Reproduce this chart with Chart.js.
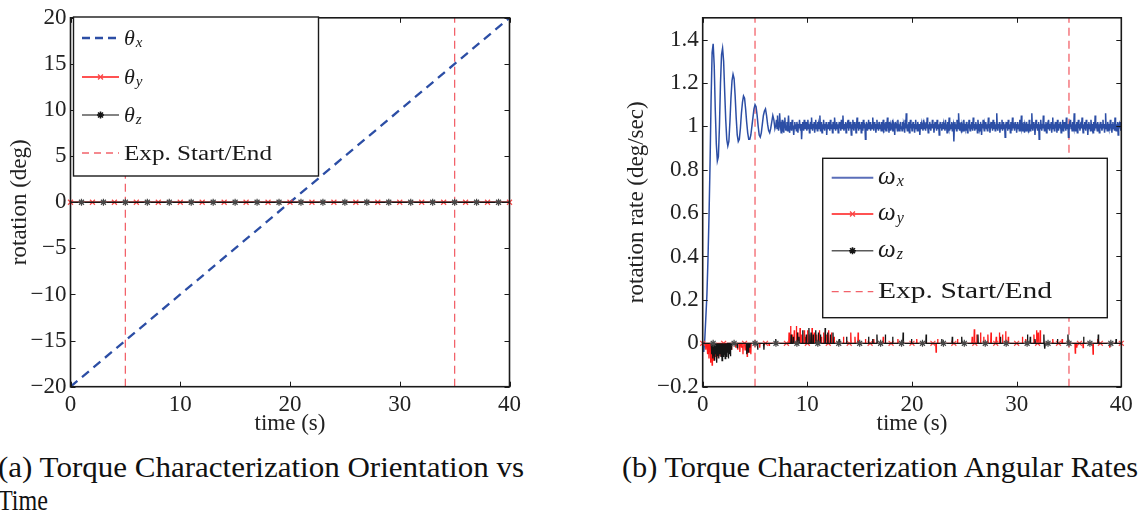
<!DOCTYPE html>
<html>
<head>
<meta charset="utf-8">
<script src="https://cdn.jsdelivr.net/npm/chart.js@4.4.1/dist/chart.umd.min.js"></script>
<style>
  html, body { margin: 0; padding: 0; background: #fff; }
  body { width: 1143px; height: 515px; position: relative; overflow: hidden; font-family: "Liberation Serif", serif; }
  .panel { position: absolute; top: 0; }
  #orientPanel { left: 0; }
  #ratePanel { left: 590px; }
  .caption { position: absolute; white-space: nowrap; font-size: 30px; line-height: 34px; color: #111; transform-origin: 0 0; }
</style>
</head>
<body>
<div class="panel" id="orientPanel"><canvas id="orientChart" width="540" height="440"></canvas></div>
<div class="panel" id="ratePanel"><canvas id="rateChart" width="553" height="440"></canvas></div>
<div class="caption" style="left:-2px; top:450px" data-w="526">(a) Torque Characterization Orientation vs</div>
<div class="caption" style="left:-2px; top:483px" data-w="50">Time</div>
<div class="caption" style="left:622px; top:450px" data-w="516">(b) Torque Characterization Angular Rates</div>

<script>
// ---- data ----

// (a) orientation vs time
const timeTicks = [0, 10, 20, 30, 40];
const orientTicks = [-20, -15, -10, -5, 0, 5, 10, 15, 20];
const orientRange = [-20, 20];
const thetaXTime = [0, 5, 10, 15, 20, 25, 30, 35, 40];
const thetaX = [-20, -15, -10, -5, 0, 5, 10, 15, 20];
const orientTime = [0, 1, 2, 3, 4, 5, 6, 7, 8, 9, 10, 11, 12, 13, 14, 15, 16, 17, 18, 19, 20,
    21, 22, 23, 24, 25, 26, 27, 28, 29, 30, 31, 32, 33, 34, 35, 36, 37, 38, 39, 40];
const thetaY = [0, 0, 0, 0, 0, 0, 0, 0, 0, 0, 0, 0, 0, 0, 0, 0, 0, 0, 0, 0, 0,
    0, 0, 0, 0, 0, 0, 0, 0, 0, 0, 0, 0, 0, 0, 0, 0, 0, 0, 0, 0];
const thetaZ = [0, 0, 0, 0, 0, 0, 0, 0, 0, 0, 0, 0, 0, 0, 0, 0, 0, 0, 0, 0, 0,
    0, 0, 0, 0, 0, 0, 0, 0, 0, 0, 0, 0, 0, 0, 0, 0, 0, 0, 0, 0];
const expMarks = [5, 35];

// (b) angular rates
const rateTicks = [-0.2, 0, 0.2, 0.4, 0.6, 0.8, 1, 1.2, 1.4];
const rateRange = [-0.2, 1.5];

// spin-up transient, one sample every 0.1 s from t = 0
const startStep = 0.1;
const omegaXStart = [
    0.00, -0.04, 0.02, 0.12, 0.22, 0.38, 0.58, 0.82, 1.12, 1.34,
    1.38, 1.28, 1.08, 0.92, 0.84, 0.86, 1.00, 1.20, 1.33, 1.36,
    1.30, 1.16, 1.03, 0.94, 0.91, 0.93, 1.02, 1.13, 1.21, 1.24,
    1.22, 1.14, 1.04, 0.96, 0.93, 0.94, 0.99, 1.06, 1.11, 1.14,
    1.13, 1.08, 1.02, 0.97, 0.94, 0.94, 0.96, 1.00, 1.04, 1.08,
    1.10, 1.09, 1.05, 1.00, 0.96, 0.95, 0.97, 1.01, 1.05, 1.07,
    1.08, 1.05, 1.01, 0.98, 0.97, 0.99, 1.02, 1.05, 1.03, 0.99
];
// steady noisy part, one sample every 0.05 s from t = 7 (one row per second)
const steadyFrom = 7;
const steadyStep = 0.05;
const omegaXSteady = [
    1.01, 1.03, 0.99, 1.05, 1.02, 0.98, 1.00, 1.06, 1.02, 0.99, 0.97, 1.01, 1.03, 0.99, 1.00, 0.97, 1.02, 1.04, 1.00, 0.98,
    1.00, 1.02, 0.98, 1.01, 1.05, 1.00, 0.97, 0.99, 1.02, 1.00, 0.98, 1.03, 1.01, 0.99, 0.96, 1.00, 1.02, 0.99, 1.01, 0.98,
    1.02, 1.00, 0.97, 1.01, 0.99, 1.03, 1.00, 0.98, 1.01, 0.94, 0.99, 1.02, 1.00, 0.98, 1.03, 1.01, 0.99, 1.00, 1.02, 0.98,
    1.00, 1.03, 0.99, 1.01, 0.97, 1.00, 1.02, 0.99, 1.04, 1.00, 0.98, 1.01, 0.99, 1.02, 0.97, 1.00, 1.03, 0.99, 1.01, 0.98,
    1.02, 0.99, 1.01, 1.00, 1.05, 0.98, 1.00, 1.02, 0.97, 1.01, 0.99, 1.03, 1.00, 0.98, 1.01, 0.99, 1.02, 0.96, 1.00, 1.01,
    0.99, 1.02, 1.00, 0.98, 1.03, 1.00, 0.99, 1.01, 0.97, 1.02, 1.00, 0.99, 1.04, 1.01, 0.98, 1.00, 1.02, 0.99, 1.01, 0.97,
    1.00, 1.02, 0.99, 1.01, 0.98, 1.03, 1.00, 0.99, 1.05, 1.00, 0.98, 1.01, 0.99, 1.02, 0.97, 1.00, 1.01, 0.99, 1.03, 0.98,
    1.01, 0.99, 1.02, 1.00, 0.96, 1.01, 0.99, 1.03, 1.00, 0.98, 1.02, 0.99, 1.01, 0.97, 1.00, 1.04, 0.99, 1.01, 0.98, 1.02,
    1.00, 0.99, 1.01, 0.97, 1.02, 1.00, 0.98, 1.03, 0.99, 1.01, 1.00, 0.94, 0.99, 1.02, 1.00, 0.98, 1.01, 1.03, 0.99, 1.00,
    1.02, 0.98, 1.00, 1.01, 0.99, 1.04, 1.00, 0.98, 1.02, 0.99, 1.01, 0.97, 1.00, 1.03, 0.99, 1.01, 0.98, 1.02, 1.00, 0.99,
    1.01, 0.98, 1.02, 1.00, 0.99, 1.03, 0.97, 1.01, 1.00, 0.99, 1.02, 0.98, 1.00, 1.04, 0.99, 1.01, 0.97, 1.02, 1.00, 0.98,
    1.01, 1.00, 0.99, 1.03, 0.98, 1.01, 1.00, 0.96, 1.02, 0.99, 1.01, 1.00, 0.98, 1.03, 0.99, 1.01, 0.98, 1.00, 1.02, 0.99,
    1.00, 0.98, 1.02, 0.99, 1.01, 1.00, 0.97, 1.03, 0.99, 1.06, 1.00, 0.98, 1.01, 0.99, 1.02, 0.97, 1.00, 1.03, 0.99, 1.01,
    0.98, 1.00, 1.02, 0.99, 1.01, 0.97, 1.00, 1.03, 0.99, 1.01, 0.98, 1.02, 1.00, 0.99, 1.01, 0.96, 1.00, 1.02, 0.99, 1.01,
    1.00, 0.98, 1.03, 0.99, 1.01, 1.00, 0.98, 1.02, 0.99, 1.04, 1.00, 0.97, 1.01, 0.99, 1.02, 1.00, 0.98, 1.01, 0.99, 1.03,
    0.99, 1.01, 0.97, 1.00, 1.02, 0.99, 1.01, 0.98, 1.03, 1.00, 0.99, 1.01, 0.96, 1.00, 1.02, 0.99, 1.01, 0.98, 1.00, 1.02,
    0.99, 1.01, 1.00, 0.98, 1.03, 0.99, 1.01, 0.97, 1.02, 1.00, 0.99, 1.04, 0.98, 1.00, 1.01, 0.99, 1.02, 0.98, 1.00, 1.01,
    0.93, 1.00, 1.02, 0.99, 1.01, 0.98, 1.03, 1.00, 0.99, 1.06, 1.01, 0.98, 1.00, 0.99, 1.02, 0.97, 1.01, 1.00, 0.98, 1.03,
    1.00, 0.99, 1.01, 0.98, 1.02, 1.00, 0.97, 1.01, 0.99, 1.03, 1.00, 0.98, 1.01, 0.99, 1.02, 1.00, 0.98, 1.04, 0.99, 1.01,
    0.98, 1.00, 1.02, 0.99, 1.01, 0.97, 1.03, 1.00, 0.99, 1.01, 0.98, 1.02, 1.00, 0.96, 1.01, 0.99, 1.03, 1.00, 0.98, 1.01,
    1.00, 1.02, 0.99, 1.01, 0.98, 1.00, 1.04, 0.99, 1.01, 0.97, 1.00, 1.02, 0.99, 1.01, 0.98, 1.03, 1.00, 0.99, 1.02, 0.98,
    1.01, 0.99, 1.06, 1.00, 0.98, 1.01, 0.99, 1.02, 0.97, 1.00, 1.01, 0.99, 1.03, 0.98, 1.00, 1.02, 0.99, 1.01, 0.95, 1.00,
    1.02, 0.99, 1.01, 0.98, 1.03, 1.00, 0.99, 1.01, 0.97, 1.02, 1.00, 0.98, 1.04, 0.99, 1.01, 1.00, 0.98, 1.02, 0.99, 1.01,
    0.97, 1.00, 1.02, 0.99, 1.01, 0.98, 1.03, 1.00, 0.99, 1.05, 1.01, 0.98, 1.00, 0.99, 1.02, 0.97, 1.01, 1.00, 0.98, 1.02,
    1.00, 0.99, 1.01, 0.97, 1.03, 1.00, 0.98, 1.01, 0.99, 1.06, 1.00, 0.98, 1.02, 0.99, 1.01, 0.96, 1.00, 1.03, 0.99, 1.01,
    0.98, 1.00, 1.02, 0.94, 1.01, 0.99, 1.03, 1.00, 0.98, 1.01, 0.99, 1.05, 1.00, 0.98, 1.01, 0.99, 1.02, 0.97, 1.00, 1.01,
    0.99, 1.03, 1.00, 0.98, 1.01, 0.99, 1.02, 0.97, 1.00, 1.04, 0.99, 1.01, 0.98, 1.00, 1.02, 0.99, 1.01, 0.97, 1.03, 1.00,
    0.98, 1.01, 0.99, 1.02, 1.00, 0.97, 1.01, 0.99, 1.03, 0.98, 1.00, 1.02, 0.99, 1.01, 0.98, 1.04, 1.00, 0.99, 1.01, 0.95,
    0.97, 1.01, 1.00, 1.03, 0.99, 1.01, 0.98, 1.02, 1.00, 0.99, 1.06, 1.00, 0.98, 1.01, 0.99, 1.02, 0.97, 1.00, 1.03, 0.99,
    1.01, 0.98, 1.00, 1.02, 0.99, 1.04, 1.00, 0.97, 1.01, 0.99, 1.02, 1.00, 0.98, 1.03, 0.99, 1.01, 0.96, 1.00, 1.02, 0.99,
    1.01, 0.98, 1.03, 1.00, 0.99, 1.01, 0.97, 1.02, 1.00, 0.98, 1.05, 0.99, 1.01, 1.00, 0.98, 1.02, 0.99, 1.01, 0.97, 1.00,
    1.02, 0.99, 1.01, 0.98, 1.00, 1.03, 0.99, 1.01, 0.97, 1.00, 1.06, 0.99, 1.01, 0.98, 1.02, 1.00, 0.99, 1.01, 0.98, 1.03,
    0.99, 1.01, 0.97, 1.00, 1.02, 0.99, 1.01, 0.98, 1.04, 1.00, 0.98, 1.01, 0.99, 1.02, 0.96, 1.00, 1.01, 0.99, 1.02, 0.98,
    1.00
];
// spikes as [time, value]; the rest of the trace sits on zero
const omegaYSpikes = [
    [0.3, -0.03], [0.45, -0.05], [0.6, -0.07], [0.75, -0.09], [0.9, -0.1], [1.05, -0.08],
    [1.2, -0.06], [1.35, -0.07], [1.5, -0.05], [1.65, -0.06], [1.8, -0.04], [1.95, -0.05],
    [2.1, -0.04], [2.25, -0.03], [2.4, -0.04], [2.55, -0.02], [2.75, -0.03], [3.15, -0.02],
    [3.35, -0.03], [3.55, -0.04], [3.7, -0.02], [3.85, -0.05], [4.05, -0.03], [4.25, -0.06],
    [4.45, -0.04], [4.6, -0.05], [5.45, -0.02], [6.35, -0.01],
    [8.25, 0.05], [8.4, 0.08], [8.55, 0.04], [8.75, 0.06], [8.95, 0.08], [9.1, 0.05],
    [9.3, 0.07], [9.45, 0.04], [9.7, 0.06], [9.85, 0.03], [10.05, 0.06], [10.25, 0.04],
    [10.45, 0.07], [10.65, 0.05], [10.9, 0.04], [11.15, 0.06], [11.35, 0.03], [11.55, 0.05],
    [11.85, 0.04], [12.05, 0.06], [12.3, 0.05], [12.55, 0.03],
    [13.45, 0.03], [14.15, 0.05], [14.55, 0.03], [14.85, 0.05], [15.55, 0.02], [16.35, 0.02],
    [17.25, 0.03], [18.65, 0.02], [20.45, 0.02], [22.3, -0.04], [22.45, 0.02], [24.35, 0.02],
    [25.75, 0.03], [25.95, 0.065], [26.2, 0.04], [26.55, 0.05], [26.85, 0.03], [27.25, 0.04],
    [27.55, 0.05], [28.05, 0.03], [28.35, 0.05], [28.65, 0.04], [28.95, 0.055], [29.2, 0.03],
    [30.55, 0.03], [30.85, 0.02], [31.65, 0.04], [31.9, 0.06], [32.05, 0.05], [32.25, 0.06],
    [33.45, 0.02], [34.35, 0.02], [35.6, -0.045], [35.75, -0.02], [36.35, -0.02],
    [37.3, -0.05], [37.75, 0.02], [38.9, -0.02]
];
const omegaZSpikes = [
    [0.85, -0.05], [0.95, -0.07], [1.05, -0.06], [1.15, -0.08], [1.25, -0.05], [1.35, -0.09],
    [1.45, -0.06], [1.55, -0.07], [1.65, -0.05], [1.75, -0.06], [1.85, -0.08], [1.95, -0.06],
    [2.05, -0.05], [2.15, -0.07], [2.25, -0.06], [2.35, -0.04], [2.45, -0.07], [2.55, -0.05],
    [2.65, -0.06], [2.75, -0.03],
    [3.3, -0.02], [4.2, -0.05], [4.35, -0.04], [4.5, -0.02], [5.25, -0.03], [5.85, -0.03],
    [6.95, 0.02], [8.45, 0.04], [8.65, 0.03], [9.05, 0.05], [9.2, 0.03], [9.55, 0.06],
    [9.9, 0.04], [10.15, 0.07], [10.35, 0.05], [10.55, 0.04], [10.8, 0.06], [11.05, 0.05],
    [11.25, 0.04], [11.7, 0.07], [11.95, 0.05], [12.2, 0.04], [12.45, 0.05], [13.05, 0.02],
    [13.75, 0.03], [15.85, 0.03], [16.25, 0.02], [16.65, 0.04], [17.45, 0.04], [18.15, 0.03],
    [19.15, 0.05], [19.95, 0.02], [21.35, 0.04], [22.85, 0.02], [23.85, 0.03], [24.75, 0.03],
    [26.3, 0.04], [28.45, 0.03], [31.05, 0.04], [31.3, 0.03], [31.75, 0.02], [32.6, 0.04],
    [32.7, -0.025], [33.9, 0.02], [34.9, 0.04], [36.4, 0.03], [37.8, 0.04], [39.5, 0.02]
];
const omegaYMarkTimes = [0, 2, 4, 6, 8, 10, 12, 14, 16, 18, 20, 22, 24, 26, 28, 30, 32, 34, 36, 38, 40];
const omegaZMarkTimes = [1, 3, 5, 7, 9, 11, 13, 15, 17, 19, 21, 23, 25, 27, 29, 31, 33, 35, 37, 39];

// ---- styling ----
const BLUE = 'rgb(44, 78, 165)';
const RED = 'rgb(255, 25, 25)';
const RED_MARK = 'rgb(250, 70, 70)';
const BLACK = 'rgb(20, 20, 20)';
const GREY_MARK = 'rgb(70, 70, 70)';
const EXP_RED = 'rgba(240, 70, 80, 0.85)';
const FONT = "'Liberation Serif', serif";

Chart.defaults.font.family = FONT;
Chart.defaults.color = '#222';
Chart.defaults.animation = false;

const fmtTick = v => String(v).replace('-', '\u2212');

function pairs(xs, ys) {
    return xs.map((x, i) => ({x: x, y: ys[i]}));
}

// vertical dashed lines at experiment start / end
function expLines(range) {
    const out = [];
    expMarks.forEach((t, i) => {
        if (i > 0) out.push({x: (expMarks[i - 1] + t) / 2, y: null});
        out.push({x: t, y: range[0]}, {x: t, y: range[1]});
    });
    return out;
}

// omega_x: transient block followed by the finer sampled steady block
function omegaXTrace() {
    const pts = omegaXStart.map((v, i) => ({x: i * startStep, y: v}));
    omegaXSteady.forEach((v, i) => pts.push({x: steadyFrom + i * steadyStep, y: v}));
    return pts;
}

// zero baseline with thin spikes; marker points flagged with mark
function spikeTrace(spikes, markTimes) {
    const pts = [{x: 0, y: 0}, {x: 40, y: 0}];
    markTimes.forEach(t => pts.push({x: t, y: 0, mark: true}));
    spikes.forEach(([t, v]) => {
        pts.push({x: t - 0.03, y: 0}, {x: t, y: v}, {x: t + 0.03, y: 0});
    });
    return pts.sort((a, b) => a.x - b.x);
}

/**
 * Frame around plot area with inward ticks on all four sides
 */
const frameTicks = {
    id: 'frameTicks',
    afterDraw(chart) {
        const {ctx, chartArea: a, scales: {x, y}} = chart;
        const len = 5;
        ctx.save();
        ctx.strokeStyle = '#1a1a1a';
        ctx.lineWidth = 1;
        ctx.beginPath();
        x.ticks.forEach(t => {
            const px = Math.round(x.getPixelForValue(t.value)) + 0.5;
            ctx.moveTo(px, a.bottom); ctx.lineTo(px, a.bottom - len);
            ctx.moveTo(px, a.top); ctx.lineTo(px, a.top + len);
        });
        y.ticks.forEach(t => {
            const py = Math.round(y.getPixelForValue(t.value)) + 0.5;
            ctx.moveTo(a.left, py); ctx.lineTo(a.left + len, py);
            ctx.moveTo(a.right, py); ctx.lineTo(a.right - len, py);
        });
        ctx.stroke();
        ctx.lineWidth = 1.6;
        ctx.strokeRect(a.left, a.top, a.right - a.left, a.bottom - a.top);
        ctx.restore();
    }
};

/**
 * Boxed legend drawn inside the plot, matlab style
 */
const boxLegend = {
    id: 'boxLegend',
    afterDraw(chart, args, opts) {
        if (!opts || !opts.rows) return;
        const ctx = chart.ctx;
        ctx.save();
        ctx.fillStyle = '#fff';
        ctx.fillRect(opts.left, opts.top, opts.width, opts.height);
        ctx.strokeStyle = '#1a1a1a';
        ctx.lineWidth = 1.4;
        ctx.strokeRect(opts.left, opts.top, opts.width, opts.height);

        opts.rows.forEach(row => {
            ctx.save();
            ctx.strokeStyle = row.color;
            ctx.lineWidth = row.width;
            ctx.setLineDash(row.dash || []);
            ctx.beginPath();
            ctx.moveTo(opts.x1, row.y);
            ctx.lineTo(opts.x2, row.y);
            ctx.stroke();
            ctx.setLineDash([]);
            if (row.marker) {
                ctx.strokeStyle = row.markColor;
                Chart.helpers.drawPoint(ctx, {pointStyle: row.marker, radius: 3.5, rotation: 0, borderWidth: 1.2},
                    (opts.x1 + opts.x2) / 2, row.y);
            }
            ctx.restore();

            ctx.fillStyle = '#1a1a1a';
            ctx.textBaseline = 'alphabetic';
            ctx.textAlign = 'left';
            if (row.sym) {
                ctx.font = `italic ${opts.symSize}px ${FONT}`;
                ctx.fillText(row.sym, opts.textX, row.y + opts.symDrop);
                const w = ctx.measureText(row.sym).width;
                ctx.font = `italic ${opts.subSize}px ${FONT}`;
                ctx.fillText(row.sub, opts.textX + w + 1, row.y + opts.subDrop);
            } else {
                ctx.font = `${opts.textSize}px ${FONT}`;
                const w = ctx.measureText(row.text).width;
                ctx.save();
                ctx.translate(opts.textX, row.y + opts.textDrop);
                ctx.scale(opts.textWidth / w, 1);
                ctx.fillText(row.text, 0, 0);
                ctx.restore();
            }
        });
        ctx.restore();
    }
};

function axes(xTicks, yTicks, yRange, yWidth, yTitle, yTitlePad) {
    return {
        x: {
            type: 'linear',
            min: 0,
            max: 40,
            afterBuildTicks: s => { s.ticks = xTicks.map(v => ({value: v})); },
            afterFit: s => { s.height = 53.3; },
            grid: {display: false, drawTicks: false},
            border: {display: false},
            ticks: {font: {size: 23}, padding: 4, callback: fmtTick, maxRotation: 0},
            title: {display: true, text: 'time (s)', font: {size: 23}, padding: {top: 0, bottom: 2}}
        },
        y: {
            type: 'linear',
            min: yRange[0],
            max: yRange[1],
            afterBuildTicks: s => { s.ticks = yTicks.map(v => ({value: v})); },
            afterFit: s => { s.width = yWidth; },
            grid: {display: false, drawTicks: false},
            border: {display: false},
            ticks: {font: {size: 23}, padding: 4, callback: fmtTick},
            title: {display: true, text: yTitle, font: {size: 23}, padding: {top: yTitlePad, bottom: 0}}
        }
    };
}

// ---- (a) orientation ----
new Chart(document.getElementById('orientChart'), {
    type: 'line',
    data: {
        datasets: [
            {label: 'theta_z', data: pairs(orientTime, thetaZ), borderColor: BLACK, borderWidth: 1.3,
             pointStyle: 'star', pointBorderColor: GREY_MARK, pointBorderWidth: 1.2,
             pointRadius: c => c.dataIndex % 2 === 1 ? 3.5 : 0, clip: false, order: 0},
            {label: 'theta_y', data: pairs(orientTime, thetaY), borderColor: RED, borderWidth: 1.3,
             pointStyle: 'crossRot', pointBorderColor: RED_MARK, pointBorderWidth: 1.2,
             pointRadius: c => c.dataIndex % 2 === 0 ? 3.5 : 0, clip: false, order: 1},
            {label: 'theta_x', data: pairs(thetaXTime, thetaX), borderColor: BLUE, borderWidth: 2.3,
             borderDash: [9, 6], pointRadius: 0, order: 2},
            {label: 'Exp. Start/End', data: expLines(orientRange), borderColor: EXP_RED, borderWidth: 1.3,
             borderDash: [8, 5], pointRadius: 0, spanGaps: false, order: 3}
        ]
    },
    options: {
        responsive: false,
        layout: {autoPadding: false, padding: {left: 0, top: 15, right: 30.5, bottom: 0}},
        scales: axes(timeTicks, orientTicks, orientRange, 70.5, 'rotation (deg)', 6),
        plugins: {
            legend: {display: false},
            tooltip: {enabled: false},
            boxLegend: {
                left: 73.5, top: 17, width: 245, height: 159,
                x1: 82, x2: 119, textX: 124,
                symSize: 22, subSize: 15, symDrop: 7, subDrop: 9,
                textSize: 20, textWidth: 148, textDrop: 6.5,
                rows: [
                    {y: 38, sym: '\u03b8', sub: 'x', color: BLUE, width: 2.3, dash: [8, 5]},
                    {y: 77, sym: '\u03b8', sub: 'y', color: RED, width: 1.3, marker: 'crossRot', markColor: RED_MARK},
                    {y: 115, sym: '\u03b8', sub: 'z', color: 'rgb(90,90,90)', width: 1.6, marker: 'star', markColor: BLACK},
                    {y: 153, text: 'Exp. Start/End', color: EXP_RED, width: 1.3, dash: [7, 5]}
                ]
            }
        }
    },
    plugins: [frameTicks, boxLegend]
});

// ---- (b) angular rates ----
new Chart(document.getElementById('rateChart'), {
    type: 'line',
    data: {
        datasets: [
            {label: 'omega_z', data: spikeTrace(omegaZSpikes, omegaZMarkTimes), borderColor: BLACK, borderWidth: 1.3,
             pointStyle: 'star', pointBorderColor: GREY_MARK, pointBorderWidth: 1.2,
             pointRadius: c => (c.raw && c.raw.mark) ? 3.5 : 0, clip: false, order: 0},
            {label: 'omega_y', data: spikeTrace(omegaYSpikes, omegaYMarkTimes), borderColor: RED, borderWidth: 1.3,
             pointStyle: 'crossRot', pointBorderColor: RED_MARK, pointBorderWidth: 1.2,
             pointRadius: c => (c.raw && c.raw.mark) ? 3.5 : 0, clip: false, order: 1},
            {label: 'omega_x', data: omegaXTrace(), borderColor: BLUE,
             borderWidth: 1.5, pointRadius: 0, tension: 0, order: 2},
            {label: 'Exp. Start/End', data: expLines(rateRange), borderColor: EXP_RED, borderWidth: 1.3,
             borderDash: [8, 5], pointRadius: 0, spanGaps: false, order: 3}
        ]
    },
    options: {
        responsive: false,
        layout: {autoPadding: false, padding: {left: 0, top: 11, right: 21.7, bottom: 0}},
        scales: axes(timeTicks, rateTicks, rateRange, 112.7, 'rotation rate (deg/sec)', 33),
        plugins: {
            legend: {display: false},
            tooltip: {enabled: false},
            boxLegend: {
                left: 232.7, top: 158.3, width: 284.6, height: 159.4,
                x1: 241.7, x2: 283.3, textX: 288,
                symSize: 25, subSize: 16, symDrop: 6, subDrop: 8.5,
                textSize: 24, textWidth: 174, textDrop: 6.6,
                rows: [
                    {y: 177.7, sym: '\u03c9', sub: 'x', color: 'rgb(90,110,185)', width: 2},
                    {y: 214, sym: '\u03c9', sub: 'y', color: RED, width: 1.3, marker: 'crossRot', markColor: RED_MARK},
                    {y: 250.7, sym: '\u03c9', sub: 'z', color: 'rgb(90,90,90)', width: 1.6, marker: 'star', markColor: BLACK},
                    {y: 291.7, text: 'Exp. Start/End', color: EXP_RED, width: 1.3, dash: [7, 5]}
                ]
            }
        }
    },
    plugins: [frameTicks, boxLegend]
});

// stretch captions to the measured line widths
document.querySelectorAll('.caption').forEach(el => {
    const w = el.getBoundingClientRect().width;
    el.style.transform = `scaleX(${Number(el.dataset.w) / w})`;
});
</script>
</body>
</html>
